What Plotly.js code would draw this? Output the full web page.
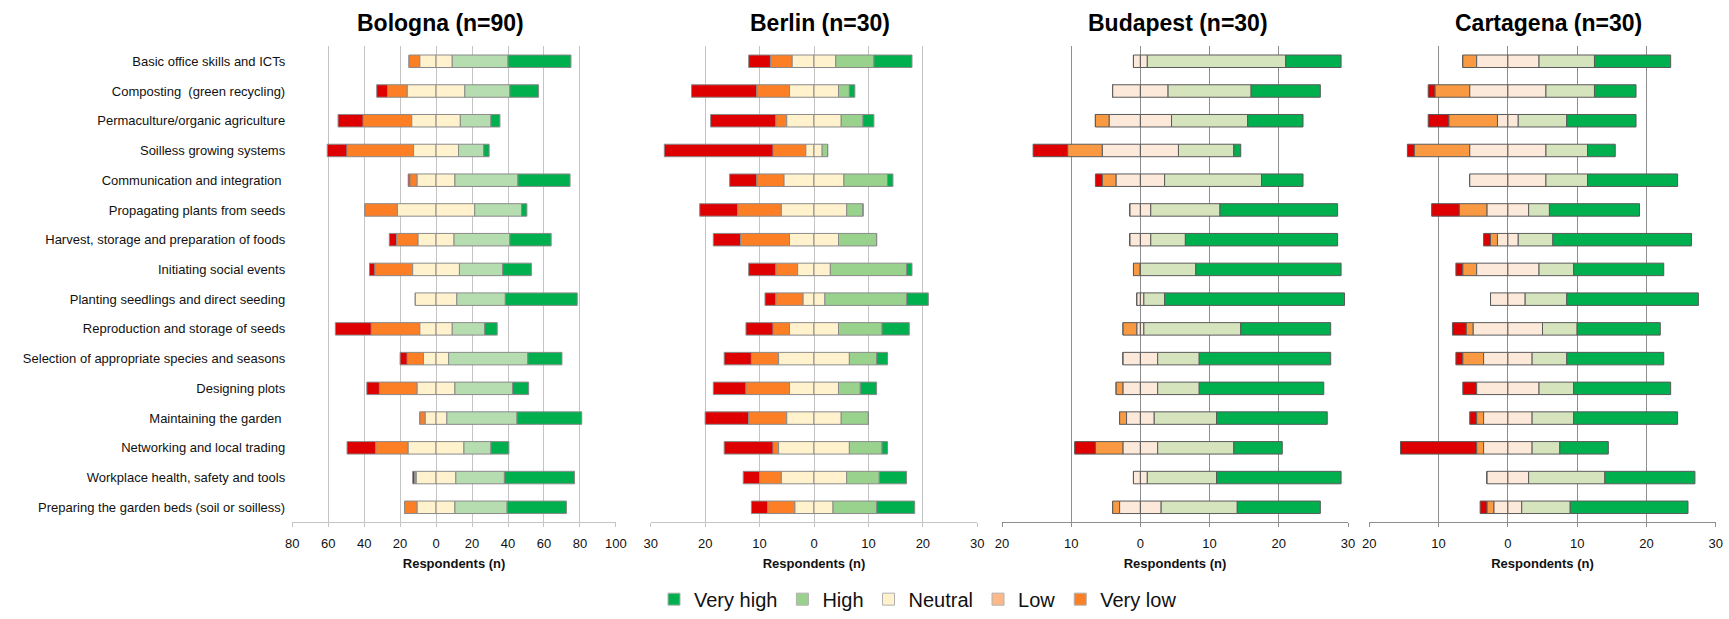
<!DOCTYPE html>
<html><head><meta charset="utf-8">
<script src="https://cdn.plot.ly/plotly-3.0.1.min.js"></script>
<style>html,body{margin:0;padding:0;background:#fff;} #chart{width:1729px;height:619px;}</style>
</head><body><div id="chart"></div>
<script>
const categories = [
  "Basic office skills and ICTs",
  "Composting \u00a0(green recycling)",
  "Permaculture/organic agriculture",
  "Soilless growing systems",
  "Communication and integration\u00a0",
  "Propagating plants from seeds",
  "Harvest, storage and preparation of foods",
  "Initiating social events",
  "Planting seedlings and direct seeding",
  "Reproduction and storage of seeds",
  "Selection of appropriate species and seasons",
  "Designing plots",
  "Maintaining the garden\u00a0",
  "Networking and local trading",
  "Workplace health, safety and tools",
  "Preparing the garden beds (soil or soilless)"
];
const levels = ["Very high", "High", "Neutral", "Low", "Very low"];

const bolognaVeryLow  = [0,6,14,11,1,0,4,3,0,20,4,7,0,16,1,0];
const bolognaLow      = [6,11,27,37,4,18,12,21,0,27,9,21,3,18,1,7];
const bolognaNeutral  = [18,32,27,25,21,43,20,26,23,18,14,21,12,31,22,21];
const bolognaHigh     = [31,25,17,14,35,26,31,24,27,18,44,32,39,15,27,29];
const bolognaVeryHigh = [35,16,5,3,29,3,23,16,40,7,19,9,36,10,39,33];

const berlinVeryLow  = [4,12,12,20,5,7,5,5,2,5,5,6,8,9,3,3];
const berlinLow      = [4,6,2,6,5,8,9,4,5,3,5,8,7,1,4,5];
const berlinNeutral  = [8,9,10,3,11,12,9,6,4,9,13,9,10,13,12,7];
const berlinHigh     = [7,2,4,1,8,3,7,14,15,8,5,4,5,6,6,8];
const berlinVeryHigh = [7,1,2,0,1,0,0,1,4,5,2,3,0,1,5,7];

const budapestVeryLow  = [0,0,0,5,1,0,0,0,0,0,0,0,0,3,0,0];
const budapestLow      = [0,0,2,5,2,0,0,1,0,2,0,1,1,4,0,1];
const budapestNeutral  = [2,8,9,11,7,3,3,0,1,1,5,5,4,5,2,6];
const budapestHigh     = [20,12,11,8,14,10,5,8,3,14,6,6,9,11,10,11];
const budapestVeryHigh = [8,10,8,1,6,17,22,21,26,13,19,18,16,7,18,12];

const cartagenaVeryLow  = [0,1,3,1,0,4,1,1,0,2,1,2,1,11,0,1];
const cartagenaLow      = [2,5,7,8,0,4,1,2,0,1,3,0,1,1,0,1];
const cartagenaNeutral  = [9,11,3,11,11,6,3,9,5,10,7,9,7,7,6,4];
const cartagenaHigh     = [8,7,7,6,6,3,5,5,6,5,5,5,6,4,11,7];
const cartagenaVeryHigh = [11,6,10,4,13,13,20,13,19,12,14,14,15,7,13,17];

const bolognaTicks = [-80,-60,-40,-20,0,20,40,60,80,100];
const berlinTicks = [-30,-20,-10,0,10,20,30];
const budapestTicks = [-20,-10,0,10,20,30];
const cartagenaTicks = [-20,-10,0,10,20,30];

const FONT = "Liberation Sans, Arial, sans-serif";

const palA = {vl:"#DE0000", l:"#FD7F25", n:"#FFF2CC", vh:"#00B04F", line:"#8A8A8A", grid:"#C4C4C4"};
const palB = {vl:"#DE0000", l:"#F99A42", n:"#FDE9DA", h:"#D6E4BE", vh:"#00B04F", line:"#5A5A5A", grid:"#8E8E8E"};

const panels = [
  {name:"Bologna (n=90)", xa:"x",  ticks:bolognaTicks, vl:bolognaVeryLow, l:bolognaLow, n:bolognaNeutral, h:bolognaHigh, vh:bolognaVeryHigh,
   pal:Object.assign({}, palA, {h:"#B5DDB0"}), domain:[292.2/1729, 615.9/1729], titleX:440.5/1729},
  {name:"Berlin (n=30)", xa:"x2", ticks:berlinTicks, vl:berlinVeryLow, l:berlinLow, n:berlinNeutral, h:berlinHigh, vh:berlinVeryHigh,
   pal:Object.assign({}, palA, {h:"#98D28D"}), domain:[650.7/1729, 977.3/1729], titleX:820/1729},
  {name:"Budapest (n=30)", xa:"x3", ticks:budapestTicks, vl:budapestVeryLow, l:budapestLow, n:budapestNeutral, h:budapestHigh, vh:budapestVeryHigh,
   pal:palB, domain:[1002/1729, 1348/1729], titleX:1177.5/1729},
  {name:"Cartagena (n=30)", xa:"x4", ticks:cartagenaTicks, vl:cartagenaVeryLow, l:cartagenaLow, n:cartagenaNeutral, h:cartagenaHigh, vh:cartagenaVeryHigh,
   pal:palB, domain:[1369.3/1729, 1715.7/1729], titleX:1548/1729}
];

const BARW = 0.42;
const traces = [];

// legend entries (as drawn in the original figure)
const legendColors = ["#00B04F", "#98D28D", "#FFF2CC", "#FFB989", "#FD7F25"];
levels.forEach((lv, i) => {
  traces.push({type:"bar", orientation:"h", x:[null], y:[null], name:lv, xaxis:"x", yaxis:"y",
    marker:{color:legendColors[i], line:{color:"#B0B0B0", width:1}}, showlegend:true, hoverinfo:"skip"});
});

panels.forEach(p => {
  const halfN = p.n.map(v => v/2);
  const negHalfN = p.n.map(v => -v/2);
  const lowBase = p.n.map((v,i) => -v/2 - p.l[i]);
  const vlBase = p.n.map((v,i) => -v/2 - p.l[i] - p.vl[i]);
  const highBase = halfN.slice();
  const vhBase = p.n.map((v,i) => v/2 + p.h[i]);
  const segs = [
    {x:p.vl, base:vlBase, c:p.pal.vl, nm:"Very low"},
    {x:p.l, base:lowBase, c:p.pal.l, nm:"Low"},
    {x:halfN, base:negHalfN, c:p.pal.n, nm:"Neutral"},
    {x:halfN, base:p.n.map(()=>0), c:p.pal.n, nm:"Neutral"},
    {x:p.h, base:highBase, c:p.pal.h, nm:"High"},
    {x:p.vh, base:vhBase, c:p.pal.vh, nm:"Very high"}
  ];
  segs.forEach(s => {
    traces.push({type:"bar", orientation:"h", y:categories, x:s.x, base:s.base, width:BARW,
      xaxis:p.xa, yaxis:"y", name:s.nm, showlegend:false,
      marker:{color:s.c, line:{color:p.pal.line, width:1}}});
  });
});

const layout = {
  width:1729, height:619,
  margin:{l:0, r:0, t:0, b:0},
  paper_bgcolor:"#fff", plot_bgcolor:"rgba(0,0,0,0)",
  barmode:"overlay",
  font:{family:FONT, color:"#111"},
  showlegend:true,
  legend:{orientation:"h", x:918/1729, xanchor:"center", y:1-607/619, yanchor:"middle",
    font:{family:FONT, size:20, color:"#111"}, bgcolor:"rgba(0,0,0,0)", itemwidth:30, traceorder:"normal"},
  yaxis:{domain:[1-529/619, 1-47/619], type:"category", range:[15.5,-0.5], anchor:"x",
    showgrid:false, zeroline:false, showline:false, ticks:"", ticklabelstandoff:6,
    tickfont:{family:FONT, size:13, color:"#111"}},
  annotations:[], shapes:[]
};

panels.forEach((p, k) => {
  const key = k === 0 ? "xaxis" : "xaxis" + (k+1);
  layout[key] = {
    domain:p.domain, anchor:"y", range:[p.ticks[0], p.ticks[p.ticks.length-1]],
    tickmode:"array", tickvals:p.ticks, ticktext:p.ticks.map(v => String(Math.abs(v))),
    showgrid:true, gridcolor:p.pal.grid, gridwidth:1, zeroline:false,
    showline:true, linecolor:p.pal.grid, linewidth:1,
    ticks:"outside", ticklen:4, tickcolor:p.pal.grid, ticklabelstandoff:5,
    tickfont:{family:FONT, size:13, color:"#111"},
    title:{text:"<b>Respondents (n)</b>", font:{family:FONT, size:13, color:"#111"}, standoff:9},
    fixedrange:true
  };
  layout.annotations.push({text:"<b>"+p.name+"</b>", xref:"paper", yref:"paper", x:p.titleX, y:1-23/619,
    xanchor:"center", yanchor:"middle", showarrow:false, font:{family:FONT, size:23, color:"#000"}});
});

Plotly.newPlot("chart", traces, layout, {staticPlot:true, displayModeBar:false});
</script>
</body></html>
